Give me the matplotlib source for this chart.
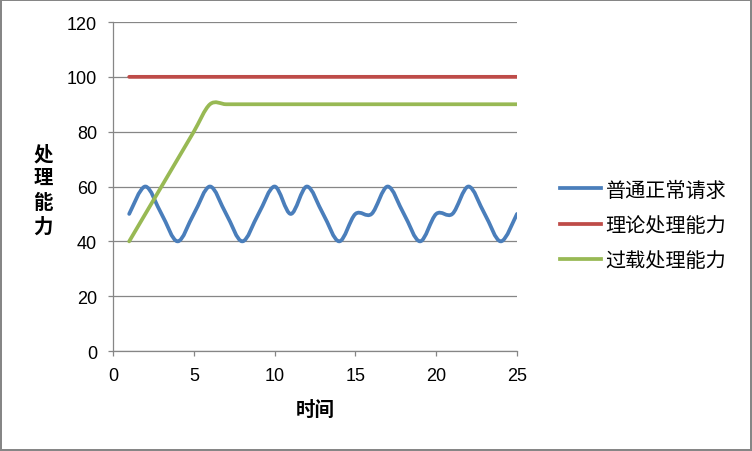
import matplotlib
matplotlib.use("Agg")
import matplotlib.pyplot as plt
from matplotlib.path import Path
from matplotlib.patches import PathPatch
from matplotlib.lines import Line2D

plt.rcParams['font.family'] = ['Liberation Sans', 'Noto Sans CJK SC', 'DejaVu Sans']

x_time = list(range(1, 26))
normal_req = [50, 60, 50, 40, 50, 60, 50, 40, 50, 60, 50, 60, 50,
              40, 50, 50, 60, 50, 40, 50, 50, 60, 50, 40, 50]
theory_cap = [100] * 25
overload_cap = [40, 50, 60, 70, 80, 90] + [90] * 19

series_names = ['普通正常请求', '理论处理能力', '过载处理能力']
colors = ['#4A7EBB', '#BE4B48', '#98B954']
y_title = '处理能力'
x_title = '时间'


def smooth_path(xs, ys):
    # catmull-rom style bezier through the points (like excel smoothed lines)
    verts = [(xs[0], ys[0])]
    codes = [Path.MOVETO]
    n = len(xs)
    for i in range(n - 1):
        x0, y0 = (xs[i - 1], ys[i - 1]) if i > 0 else (xs[i], ys[i])
        x1, y1 = xs[i], ys[i]
        x2, y2 = xs[i + 1], ys[i + 1]
        x3, y3 = (xs[i + 2], ys[i + 2]) if i + 2 < n else (x2, y2)
        c1 = (x1 + (x2 - x0) / 6.0, y1 + (y2 - y0) / 6.0)
        c2 = (x2 - (x3 - x1) / 6.0, y2 - (y3 - y1) / 6.0)
        verts += [c1, c2, (x2, y2)]
        codes += [Path.CURVE4] * 3
    return Path(verts, codes)


fig = plt.figure(figsize=(7.52, 4.52), dpi=100)
fig.patch.set_edgecolor('#868686')
fig.patch.set_linewidth(1.5)
ax = fig.add_axes([0.1503, 0.2212, 0.5372, 0.7279])

for ys, c in zip([normal_req, theory_cap, overload_cap], colors):
    ax.add_patch(PathPatch(smooth_path(x_time, ys), facecolor='none',
                           edgecolor=c, lw=2.7, capstyle='round', joinstyle='round'))

ax.set_xlim(0, 25)
ax.set_ylim(0, 120)
ax.set_xticks([0, 5, 10, 15, 20, 25])
ax.set_yticks(range(0, 121, 20))
ax.grid(axis='y', color='#868686', lw=0.9)
ax.set_axisbelow(True)
for s in ['top', 'right']:
    ax.spines[s].set_visible(False)
for s in ['left', 'bottom']:
    ax.spines[s].set_color('#868686')
    ax.spines[s].set_linewidth(0.9)
ax.tick_params(colors='#868686', labelcolor='black', labelsize=13,
               length=3.6, width=0.9, pad=8)

ax.set_xlabel(x_title, fontsize=14, fontweight='bold', va='center')
ax.xaxis.set_label_coords(0.5, -0.179)

# vertical title, one character per row
for k, ch in enumerate(y_title):
    fig.text(43 / 752, 1 - (155 + 24 * k) / 452, ch, fontsize=14,
             fontweight='bold', ha='center', va='center')

handles = [Line2D([], [], color=c, lw=2.7) for c in colors]
fig.legend(handles, series_names, loc='center left', bbox_to_anchor=(0.745, 0.5),
           frameon=False, fontsize=14.5, handlelength=2.0, handletextpad=0.25,
           labelspacing=0.8, borderpad=0, borderaxespad=0)

fig.savefig('out.png', dpi=100, edgecolor=fig.get_edgecolor())
